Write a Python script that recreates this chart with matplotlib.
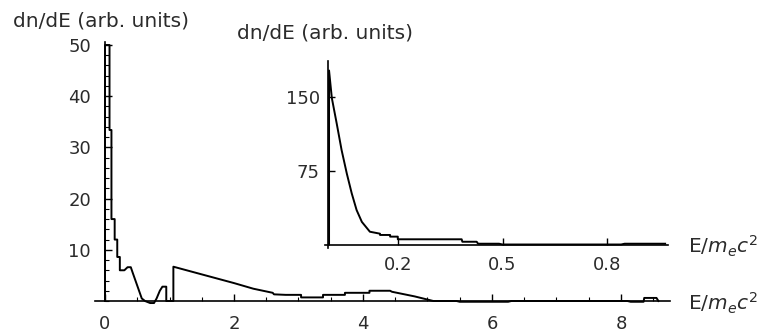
import matplotlib
matplotlib.use("Agg")
import matplotlib.pyplot as plt
from matplotlib.ticker import MultipleLocator

plt.rcParams["font.family"] = ["DejaVu Sans"]
plt.rcParams["mathtext.fontset"] = "dejavusans"

# main spectrum
main_E = [0.0, 0.0, 0.07, 0.07, 0.10, 0.10, 0.15, 0.15, 0.19, 0.19, 0.23, 0.23,
          0.30, 0.35, 0.40, 0.43, 0.50, 0.57, 0.62, 0.70, 0.76, 0.80, 0.85, 0.89,
          0.95, 0.95, 1.06, 1.06, 1.5, 2.0, 2.3, 2.6, 2.62, 2.8, 3.04, 3.04,
          3.38, 3.38, 3.72, 3.72, 4.1, 4.1, 4.42, 4.45, 4.8, 5.09, 5.45, 5.5,
          6.25, 6.3, 8.1, 8.15, 8.35, 8.36, 8.55, 8.58]
main_dn = [0, 50, 50, 33.4, 33.4, 16, 16, 12, 12, 8.6, 8.6, 6.0,
           6.0, 6.6, 6.6, 5.5, 3.0, 0.5, 0, -0.4, -0.4, 0.5, 2.0, 2.8,
           2.8, 0, 0, 6.7, 5.2, 3.5, 2.4, 1.6, 1.3, 1.2, 1.2, 0.7,
           0.7, 1.2, 1.2, 1.6, 1.6, 2.0, 2.0, 1.8, 0.9, 0, 0, -0.15,
           -0.15, 0, 0, -0.15, -0.15, 0.6, 0.6, 0]

# low-energy part (inset)
inset_E = [0.003, 0.003, 0.011, 0.025, 0.039, 0.054, 0.068, 0.082, 0.097, 0.12,
           0.149, 0.149, 0.178, 0.178, 0.2, 0.2, 0.383, 0.385, 0.426, 0.43,
           0.49, 0.5, 0.84, 0.85, 0.966]
inset_dn = [0, 177, 149, 123, 96, 72, 52, 35, 23, 13,
            11, 9.7, 9.7, 8, 8, 5.3, 5.3, 2.8, 2.8, 0.8,
            0.8, 0, 0, 0.8, 0.8]

main_yticks = [10, 20, 30, 40, 50]
main_xticks = [0, 2, 4, 6, 8]
inset_yticks = [75, 150]
inset_xticks = [0.2, 0.5, 0.8]
inset_xlabels = ["0.2", "0.5", "0.8"]

W, H = 764, 332
fig = plt.figure(figsize=(W / 100, H / 100), dpi=100)
txt = "#2b2b2b"


def px_axes(x0, x1, ytop, ybot):
    return fig.add_axes([x0 / W, 1 - ybot / H, (x1 - x0) / W, (ybot - ytop) / H])


def style(ax, xb, yb):
    for s in ("top", "right"):
        ax.spines[s].set_visible(False)
    ax.spines["left"].set_position(("data", 0))
    ax.spines["bottom"].set_position(("data", 0))
    ax.spines["left"].set_bounds(*yb)
    ax.spines["bottom"].set_bounds(*xb)
    for s in ("left", "bottom"):
        ax.spines[s].set_linewidth(1.2)
    ax.patch.set_visible(False)
    ax.tick_params(direction="in", colors="black", labelcolor=txt,
                   labelsize=13, width=1.0)


# main axes: x 0 at px 105, 64.5 px/unit; y 0 at px 301, 5.12 px/unit
ax = px_axes(105 - 0.2 * 64.5, 105 + 8.8 * 64.5, 301 - 51 * 5.12, 301 + 1 * 5.12)
ax.set_xlim(-0.2, 8.8)
ax.set_ylim(-1, 51)
style(ax, (-0.15, 8.76), (0, 50.5))
ax.plot(main_E, main_dn, color="black", lw=1.4, clip_on=False)
ax.set_xticks(main_xticks)
ax.set_yticks(main_yticks)
ax.xaxis.set_minor_locator(MultipleLocator(0.5))
ax.yaxis.set_minor_locator(MultipleLocator(2))
ax.tick_params(which="major", length=5)
ax.tick_params(axis="y", which="major", pad=10)
ax.tick_params(axis="x", which="major", pad=10)
ax.tick_params(which="minor", direction="in", length=3, width=0.8)

# inset axes: x 0 at px 328, 349 px/unit; y 0 at px 244.5, 0.983 px/unit
ins = px_axes(328 - 0.02 * 349, 328 + 0.98 * 349, 244.5 - 190 * 0.983, 244.5 + 6 * 0.983)
ins.set_xlim(-0.02, 0.98)
ins.set_ylim(-6, 190)
style(ins, (-0.01, 0.975), (-4, 187))
ins.plot(inset_E, inset_dn, color="black", lw=1.4, clip_on=False)
ins.set_xticks(inset_xticks)
ins.set_xticklabels(inset_xlabels)
ins.set_yticks(inset_yticks)
ins.tick_params(which="major", length=5)
ins.tick_params(axis="y", pad=6)
ins.tick_params(axis="x", pad=8)

fig.text(13 / W, 1 - 21 / H, "dn/dE (arb. units)", fontsize=14.5, color=txt,
         ha="left", va="center")
fig.text(237 / W, 1 - 33 / H, "dn/dE (arb. units)", fontsize=14.5, color=txt,
         ha="left", va="center")
fig.text(688 / W, 1 - 303 / H, r"E/$m_ec^2$", fontsize=14.5, color=txt,
         ha="left", va="center")
fig.text(688 / W, 1 - 246 / H, r"E/$m_ec^2$", fontsize=14.5, color=txt,
         ha="left", va="center")

fig.savefig("out.png", dpi=100)
